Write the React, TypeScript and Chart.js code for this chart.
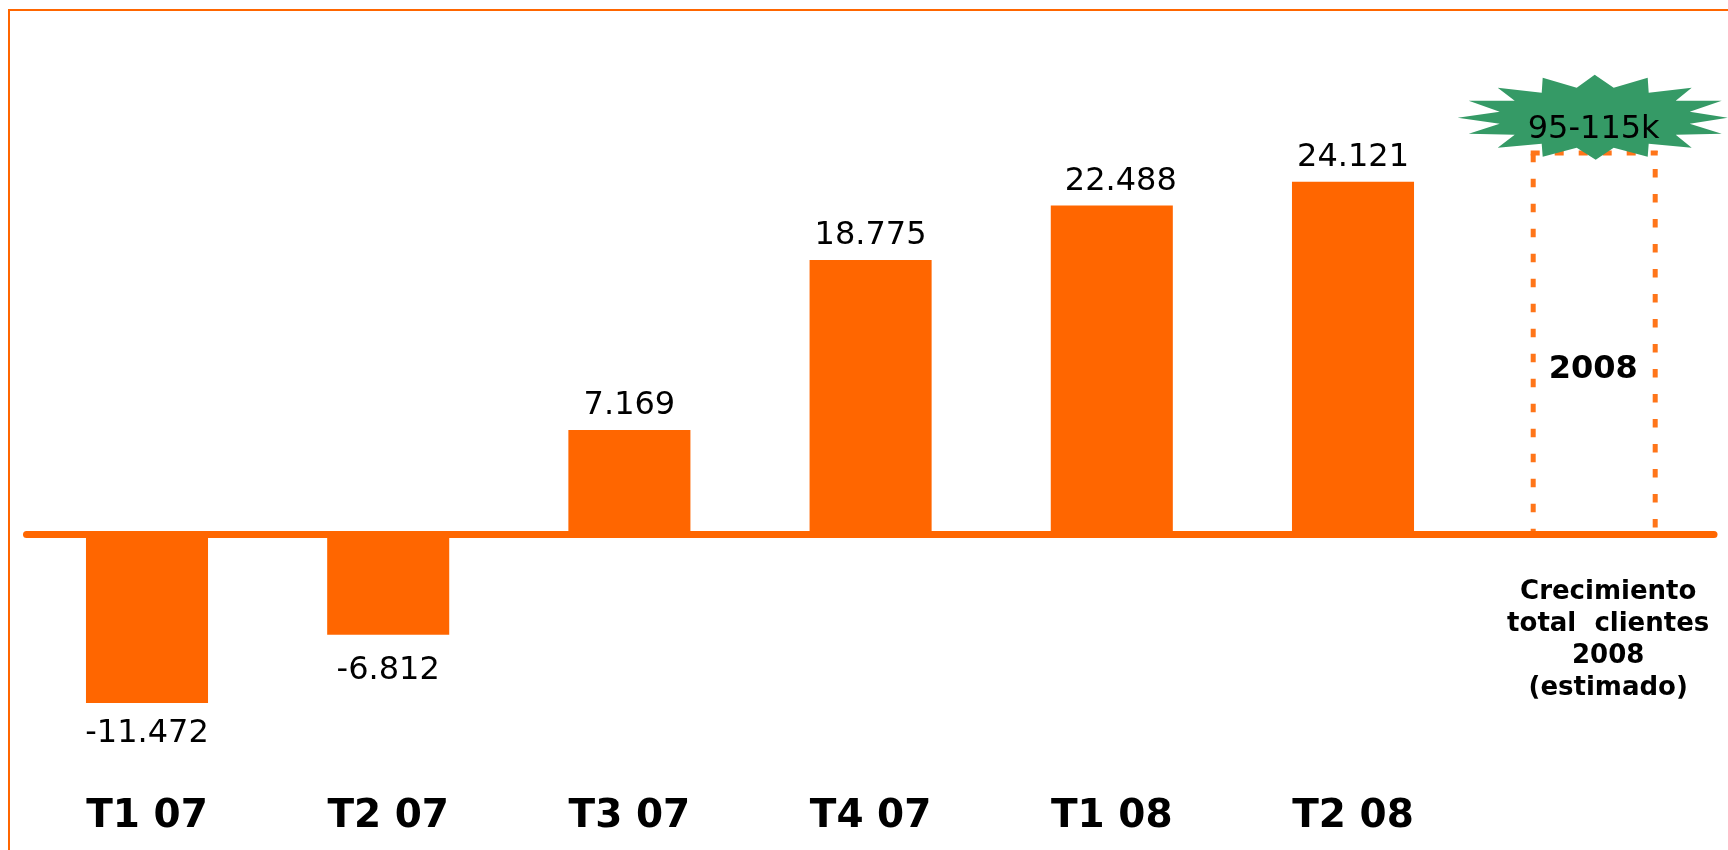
import React, { useEffect, useRef } from "react";
import { Chart, registerables } from "chart.js";

Chart.register(...registerables);

const categories = ["T1 07", "T2 07", "T3 07", "T4 07", "T1 08", "T2 08", ""];
const customerGrowth = [-11472, -6812, 7169, 18775, 22488, 24121, null];
const growthLabels = ["-11.472", "-6.812", "7.169", "18.775", "22.488", "24.121"];
const estimateBox = [null, null, null, null, null, null, 26075];
const estimateLabel = "95-115k";
const estimateYear = "2008";
const estimateNote = ["Crecimiento", "total  clientes", "2008", "(estimado)"];

const ORANGE = "#FF6600";
const DASH = "#FF7519";
const GREEN = "#359A66";
const FONT = '"DejaVu Sans", Verdana, sans-serif';
const LABEL_GAP = [39, 44, 16, 16, 16, 16];
const LABEL_SHIFT = [0, 0, 0, 0, 9, 0];

const STAR = [
  [0, -43], [19, -30], [53, -40], [54, -25], [97, -30], [81, -17], [127, -17], [95, -6],
  [133, 0], [95, 6], [127, 16], [81, 17], [97, 30], [54, 26], [53, 39], [19, 30],
  [1, 42], [-18, 30], [-52, 39], [-53, 26], [-97, 30], [-80, 17], [-126, 16], [-95, 6],
  [-137, 0], [-95, -6], [-126, -17], [-80, -17], [-97, -30], [-53, -25], [-52, -40], [-18, -30],
];

const decorations = {
  id: "decorations",
  afterDatasetsDraw(chart: any) {
    const { ctx, scales } = chart;
    const zero = scales.y.getPixelForValue(0);
    const bars = chart.getDatasetMeta(0).data;
    const box = chart.getDatasetMeta(1).data[6];
    ctx.save();

    // frame
    ctx.fillStyle = ORANGE;
    ctx.fillRect(8, 9, 1720, 2);
    ctx.fillRect(8, 9, 2, 841);

    // zero line
    ctx.strokeStyle = ORANGE;
    ctx.lineWidth = 7;
    ctx.lineCap = "round";
    ctx.beginPath();
    ctx.moveTo(26.5, zero - 0.5);
    ctx.lineTo(1714, zero - 0.5);
    ctx.stroke();

    // dotted estimate box
    const left = box.x - 61;
    const right = box.x + 61;
    const top = box.y;
    ctx.strokeStyle = DASH;
    ctx.lineWidth = 5;
    ctx.lineCap = "butt";
    ctx.setLineDash([8.5, 16.5]);
    ctx.lineDashOffset = -2.7;
    ctx.beginPath();
    ctx.moveTo(left, top - 2);
    ctx.lineTo(left, zero - 4);
    ctx.stroke();
    ctx.lineDashOffset = 7;
    ctx.beginPath();
    ctx.moveTo(right, top - 2);
    ctx.lineTo(right, zero - 4);
    ctx.stroke();
    ctx.setLineDash([9, 15]);
    ctx.lineDashOffset = 0;
    ctx.beginPath();
    ctx.moveTo(left - 2.5, top);
    ctx.lineTo(right + 2.5, top);
    ctx.stroke();
    ctx.setLineDash([]);

    // starburst
    const cx = box.x + 0.5;
    const cy = top - 35.3;
    ctx.fillStyle = GREEN;
    ctx.beginPath();
    STAR.forEach(([dx, dy], i) => (i ? ctx.lineTo(cx + dx, cy + dy) : ctx.moveTo(cx + dx, cy + dy)));
    ctx.closePath();
    ctx.fill();

    // texts
    ctx.fillStyle = "#000";
    ctx.textAlign = "center";
    ctx.textBaseline = "alphabetic";
    ctx.font = `32px ${FONT}`;
    ctx.fillText(estimateLabel, box.x - 0.5, 138);
    growthLabels.forEach((label, i) => {
      const bar = bars[i];
      const y = customerGrowth[i]! < 0 ? bar.y + LABEL_GAP[i] : bar.y - LABEL_GAP[i];
      ctx.fillText(label, bar.x + LABEL_SHIFT[i], y);
    });
    ctx.font = `bold 32px ${FONT}`;
    ctx.fillText(estimateYear, box.x - 1, 378);
    ctx.font = `bold 26px ${FONT}`;
    estimateNote.forEach((line, i) => ctx.fillText(line, box.x + 14, 599 + i * 32));
    ctx.restore();
  },
};

export default function App() {
  const ref = useRef<HTMLCanvasElement>(null);
  useEffect(() => {
    document.body.style.margin = "0";
    const chart = new Chart(ref.current!, {
      type: "bar",
      data: {
        labels: categories,
        datasets: [
          {
            data: customerGrowth,
            backgroundColor: ORANGE,
            grouped: false,
            categoryPercentage: 1,
            barPercentage: 0.506,
          },
          {
            data: estimateBox,
            backgroundColor: "transparent",
            grouped: false,
            categoryPercentage: 1,
            barPercentage: 0.506,
          },
        ],
      } as any,
      options: {
        responsive: false,
        animation: false,
        devicePixelRatio: 1,
        layout: { padding: { left: 26.4, right: 13.2, top: 0, bottom: 0 } },
        plugins: { legend: { display: false }, tooltip: { enabled: false } },
        scales: {
          x: {
            grid: { display: false },
            border: { display: false },
            ticks: {
              color: "#000",
              font: { family: FONT, size: 39, weight: "bold" },
              padding: 16,
              maxRotation: 0,
              autoSkip: false,
            },
            afterFit(scale: any) {
              scale.height = 81;
            },
          },
          y: { display: false, min: -15970, max: 36520 },
        },
      } as any,
      plugins: [decorations],
    });
    return () => chart.destroy();
  }, []);
  return (
    <div style={{ position: "absolute", left: 0, top: 0, width: 1728, height: 850, overflow: "hidden", background: "#fff" }}>
      <canvas ref={ref} width={1728} height={850} style={{ display: "block" }} />
    </div>
  );
}
